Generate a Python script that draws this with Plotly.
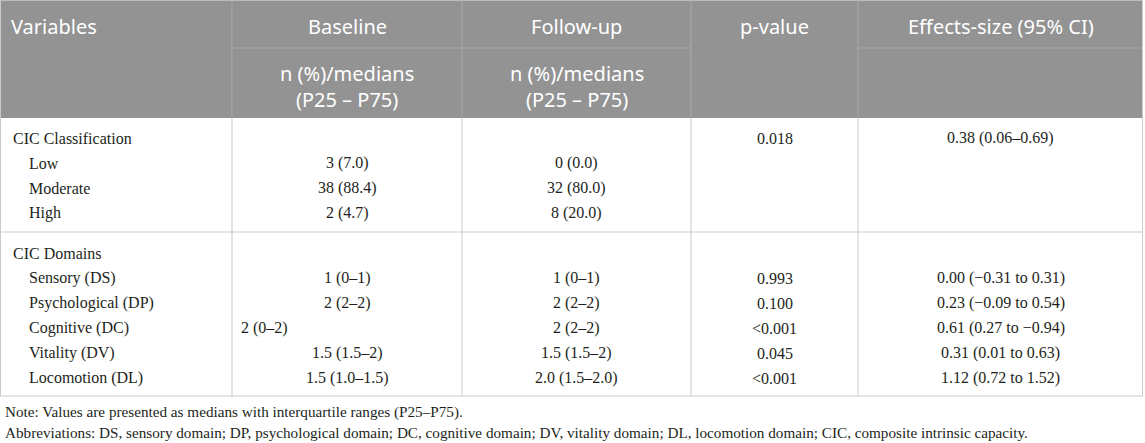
"""
Table: CIC classification and domains, baseline vs follow-up
"""
import plotly.graph_objects as go

# ---- data ----
header_top = ["Variables", "Baseline", "Follow-up", "p-value", "Effects-size (95% CI)"]
header_sub = ["", "n (%)/medians<br>(P25 – P75)", "n (%)/medians<br>(P25 – P75)", "", ""]

groups = ["CIC Classification", "CIC Domains"]

class_items = ["Low", "Moderate", "High"]
class_baseline = ["3 (7.0)", "38 (88.4)", "2 (4.7)"]
class_followup = ["0 (0.0)", "32 (80.0)", "8 (20.0)"]
class_p = "0.018"
class_es = "0.38 (0.06–0.69)"

domain_items = ["Sensory (DS)", "Psychological (DP)", "Cognitive (DC)", "Vitality (DV)", "Locomotion (DL)"]
domain_baseline = ["1 (0–1)", "2 (2–2)", "2 (0–2)", "1.5 (1.5–2)", "1.5 (1.0–1.5)"]
domain_followup = ["1 (0–1)", "2 (2–2)", "2 (2–2)", "1.5 (1.5–2)", "2.0 (1.5–2.0)"]
domain_p = ["0.993", "0.100", "<0.001", "0.045", "<0.001"]
domain_es = ["0.00 (−0.31 to 0.31)", "0.23 (−0.09 to 0.54)", "0.61 (0.27 to −0.94)",
             "0.31 (0.01 to 0.63)", "1.12 (0.72 to 1.52)"]

notes = [
    "Note: Values are presented as medians with interquartile ranges (P25–P75).",
    "Abbreviations: DS, sensory domain; DP, psychological domain; DC, cognitive domain; "
    "DV, vitality domain; DL, locomotion domain; CIC, composite intrinsic capacity.",
]

# ---- layout constants ----
W, H = 1145, 443
edges = [0, 232, 462, 691, 858, 1143]
centers = [(a + b) / 2 for a, b in zip(edges[:-1], edges[1:])]
HEAD_SPLIT, HEAD_BOTTOM = 48, 118
TABLE_BOTTOM = 396
FIRST_ROW, PITCH, GROUP_GAP = 138, 25, 15

HEAD_BG = "#939393"
LINE = "#c9c9c9"
HEAD_LINE = "#a8a8a8"
TXT = "#231f20"
SERIF = "Liberation Serif, Times New Roman, serif"
SANS = "Noto Sans, Open Sans, sans-serif"

fig = go.Figure()
shapes = []
ann = []


def line(x0, y0, x1, y1, color=LINE, w=1):
    shapes.append(dict(type="line", x0=x0, y0=y0, x1=x1, y1=y1, xref="x", yref="y",
                       line=dict(color=color, width=w), layer="above"))


def text(x, y, s, align="center", font=SERIF, size=16, color=TXT):
    ann.append(dict(x=x, y=y, text=s, xref="x", yref="y", showarrow=False,
                    xanchor=align, yanchor="middle", align=align,
                    font=dict(family=font, size=size, color=color)))


# header background
shapes.append(dict(type="rect", x0=edges[0], x1=edges[-1], y0=0, y1=HEAD_BOTTOM,
                   xref="x", yref="y", fillcolor=HEAD_BG, line=dict(width=0), layer="below"))
line(edges[0], 0.5, edges[-1], 0.5, color="#bdbdbd")
for x in edges[1:-1]:
    line(x, 0, x, HEAD_BOTTOM, color=HEAD_LINE)
line(edges[1], HEAD_SPLIT, edges[3], HEAD_SPLIT, color=HEAD_LINE)
line(edges[4], HEAD_SPLIT, edges[5], HEAD_SPLIT, color=HEAD_LINE)

# header text
for i, s in enumerate(header_top):
    if i == 0:
        text(edges[0] + 9, HEAD_SPLIT / 2 + 2, s, align="left", font=SANS, size=20, color="white")
    else:
        text(centers[i], HEAD_SPLIT / 2 + 2, s, font=SANS, size=20, color="white")
for i, s in enumerate(header_sub):
    if s:
        text(centers[i], (HEAD_SPLIT + HEAD_BOTTOM) / 2 + 3, s, font=SANS, size=20, color="white")

# body rows
rows = []  # (label, indent, baseline, followup, p, es, group)
rows.append((groups[0], False, "", "", class_p, class_es, 0))
for k, item in enumerate(class_items):
    rows.append((item, True, class_baseline[k], class_followup[k], "", "", 0))
rows.append((groups[1], False, "", "", "", "", 1))
for k, item in enumerate(domain_items):
    rows.append((item, True, domain_baseline[k], domain_followup[k], domain_p[k], domain_es[k], 1))

for r, (label, indent, base, follow, p, es, g) in enumerate(rows):
    y = FIRST_ROW + r * PITCH + g * GROUP_GAP
    text(edges[0] + (27 if indent else 11), y, label, align="left")
    if base:
        # one value in the source is set flush left in its cell
        if label.startswith("Cognitive"):
            text(edges[1] + 7, y, base, align="left")
        else:
            text(centers[1], y, base)
    if follow:
        text(centers[2], y, follow)
    if p:
        text(centers[3], y, p)
    if es:
        text(centers[4], y, es)

# body grid
sep_y = FIRST_ROW + len(class_items) * PITCH + PITCH * 0.76
for x in edges[1:-1]:
    line(x, HEAD_BOTTOM, x, TABLE_BOTTOM)
line(edges[0] + 0.5, 0, edges[0] + 0.5, TABLE_BOTTOM)
line(edges[-1] - 0.5, 0, edges[-1] - 0.5, TABLE_BOTTOM)
line(edges[0], sep_y, edges[-1], sep_y)
line(edges[0], TABLE_BOTTOM, edges[-1], TABLE_BOTTOM)

# notes
for i, s in enumerate(notes):
    text(3, TABLE_BOTTOM + 16 + i * 20, s, align="left", size=15.2)

fig.update_layout(
    width=W, height=H,
    margin=dict(l=0, r=0, t=0, b=0),
    paper_bgcolor="white", plot_bgcolor="white",
    xaxis=dict(range=[0, W], visible=False, fixedrange=True),
    yaxis=dict(range=[H, 0], visible=False, fixedrange=True),
    shapes=shapes, annotations=ann, showlegend=False,
)

# page body has a default 8px margin; drop it so the table sits at the window corner
fig.write_html("out.html", config={"displayModeBar": False},
               post_script="document.body.style.margin='0';")
